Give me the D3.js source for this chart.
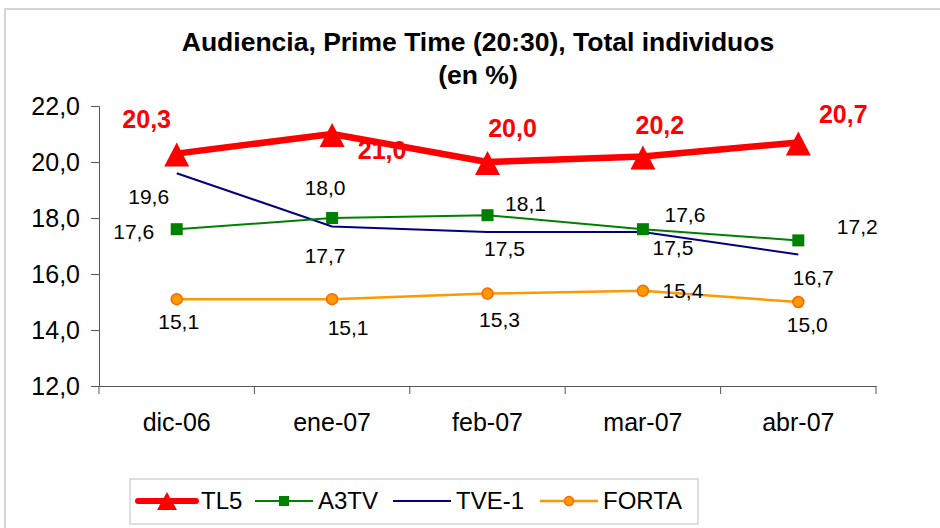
<!DOCTYPE html>
<html>
<head>
<meta charset="utf-8">
<script src="https://d3js.org/d3.v7.min.js"></script>
<style>
  body { margin: 0; background: #fff; }
  text { font-family: "Liberation Sans", Arial, sans-serif; }
</style>
</head>
<body>
<div id="chart"></div>
<script>
// data
var months = ["dic-06", "ene-07", "feb-07", "mar-07", "abr-07"];
var tl5   = [20.3, 21.0, 20.0, 20.2, 20.7];
var a3tv  = [17.6, 18.0, 18.1, 17.6, 17.2];
var tve1  = [19.6, 17.7, 17.5, 17.5, 16.7];
var forta = [15.1, 15.1, 15.3, 15.4, 15.0];
var yTicks = [12, 14, 16, 18, 20, 22];

// label offsets (dx, dy) from each point, as placed in the original
var tl5Off   = [[-30,-34], [50,16], [25,-34], [17,-31], [45,-28]];
var a3tvOff  = [[-43,2], [-7,-30], [38,-12], [42,-15], [59,-14]];
var tve1Off  = [[-28,23], [-7,29], [17,17], [30,16], [15,23]];
var fortaOff = [[2,22], [16,28], [12,26], [40,0], [9,23]];

var W = 940, H = 528;
var svg = d3.select("#chart").append("svg")
  .attr("width", W).attr("height", H);

// outer chart frame
svg.append("rect")
  .attr("x", 5).attr("y", 9)
  .attr("width", 1000).attr("height", 600)
  .attr("fill", "#fff")
  .attr("stroke", "#d4d4d4").attr("stroke-width", 2);

// title
svg.append("text")
  .attr("x", 478).attr("y", 51)
  .attr("text-anchor", "middle")
  .style("font-size", "26.5px").style("font-weight", "bold")
  .text("Audiencia, Prime Time (20:30), Total individuos");
svg.append("text")
  .attr("x", 478).attr("y", 84)
  .attr("text-anchor", "middle")
  .style("font-size", "26.5px").style("font-weight", "bold")
  .text("(en %)");

var x = d3.scaleBand().domain(months).range([99, 876]);
var y = d3.scaleLinear().domain([12, 22]).range([386, 106]);
var cx = function(d, i) { return x(months[i]) + x.bandwidth() / 2; };

var fmt = function(v) { return d3.format(".1f")(v).replace(".", ","); };

// y axis
var yAxis = svg.append("g")
  .attr("transform", "translate(99,0)")
  .call(d3.axisLeft(y).tickValues(yTicks).tickSize(8).tickPadding(11).tickFormat(fmt));
yAxis.selectAll("text").style("font-size", "25px").attr("fill", "#000");
yAxis.selectAll("line, path").attr("stroke", "#555");

// x axis: labels centred, tick marks between categories
var xAxis = svg.append("g")
  .attr("transform", "translate(0,386)")
  .call(d3.axisBottom(x).tickSize(0).tickPadding(27));
xAxis.selectAll("text").style("font-size", "25px").attr("fill", "#000");
xAxis.select("path").attr("stroke", "#555");
var bounds = months.map(function(m) { return x(m); }).concat([x(months[months.length - 1]) + x.step()]);
xAxis.selectAll(".sep").data(bounds).enter().append("line")
  .attr("x1", function(d) { return d; }).attr("x2", function(d) { return d; })
  .attr("y1", 0).attr("y2", 8)
  .attr("stroke", "#555");

var line = d3.line().x(cx).y(function(d) { return y(d); });

function drawLabels(vals, offs, cls, size, weight, color) {
  svg.selectAll("." + cls).data(vals).enter().append("text")
    .attr("class", cls)
    .attr("x", function(d, i) { return cx(d, i) + offs[i][0]; })
    .attr("y", function(d, i) { return y(d) + offs[i][1]; })
    .attr("text-anchor", "middle")
    .attr("dy", "0.35em")
    .style("font-size", size + "px").style("font-weight", weight)
    .attr("fill", color)
    .text(fmt);
}

// FORTA
svg.append("path").attr("d", line(forta))
  .attr("fill", "none").attr("stroke", "#ff9900").attr("stroke-width", 2.5);
svg.selectAll(".fdot").data(forta).enter().append("circle")
  .attr("class", "fdot")
  .attr("cx", cx).attr("cy", function(d) { return y(d); })
  .attr("r", 5.5).attr("fill", "#ff9900").attr("stroke", "#ff6600").attr("stroke-width", 1.5);

// TVE-1
svg.append("path").attr("d", line(tve1))
  .attr("fill", "none").attr("stroke", "#000080").attr("stroke-width", 2);

// A3TV
svg.append("path").attr("d", line(a3tv))
  .attr("fill", "none").attr("stroke", "#008000").attr("stroke-width", 2);
svg.selectAll(".asq").data(a3tv).enter().append("rect")
  .attr("class", "asq")
  .attr("x", function(d, i) { return cx(d, i) - 6; })
  .attr("y", function(d) { return y(d) - 6; })
  .attr("width", 12).attr("height", 12).attr("fill", "#008000");

// TL5
svg.append("path").attr("d", line(tl5))
  .attr("fill", "none").attr("stroke", "#ff0000").attr("stroke-width", 6.5)
  .attr("stroke-linejoin", "round");
svg.selectAll(".tri").data(tl5).enter().append("path")
  .attr("class", "tri")
  .attr("d", function(d, i) {
    var px = cx(d, i), py = y(d);
    return "M" + px + "," + (py - 11) + "L" + (px + 12.5) + "," + (py + 13) + "L" + (px - 12.5) + "," + (py + 13) + "Z";
  })
  .attr("fill", "#ff0000");

drawLabels(forta, fortaOff, "flab", 21, "normal", "#000");
drawLabels(tve1, tve1Off, "vlab", 21, "normal", "#000");
drawLabels(a3tv, a3tvOff, "alab", 21, "normal", "#000");
drawLabels(tl5, tl5Off, "tlab", 25, "bold", "#ff0000");

// legend
var lg = svg.append("g");
lg.append("rect")
  .attr("x", 130).attr("y", 479).attr("width", 568).attr("height", 45)
  .attr("fill", "#fff").attr("stroke", "#d4d4d4").attr("stroke-width", 1.5);
var ly = 501;
var items = [
  { name: "TL5", x0: 138, color: "#ff0000", w: 6, mark: "tri" },
  { name: "A3TV", x0: 255, color: "#008000", w: 2, mark: "sq" },
  { name: "TVE-1", x0: 393, color: "#000080", w: 2, mark: "none" },
  { name: "FORTA", x0: 540, color: "#ff9900", w: 2.5, mark: "dot" }
];
items.forEach(function(it) {
  var mid = it.x0 + 29;
  lg.append("line")
    .attr("x1", it.x0).attr("x2", it.x0 + 58).attr("y1", ly).attr("y2", ly)
    .attr("stroke", it.color).attr("stroke-width", it.w).attr("stroke-linecap", it.mark === "tri" ? "round" : "butt");
  if (it.mark === "tri") {
    lg.append("path")
      .attr("d", "M" + mid + "," + (ly - 9) + "L" + (mid + 10) + "," + (ly + 9) + "L" + (mid - 10) + "," + (ly + 9) + "Z")
      .attr("fill", it.color);
  } else if (it.mark === "sq") {
    lg.append("rect").attr("x", mid - 5).attr("y", ly - 5).attr("width", 10).attr("height", 10).attr("fill", it.color);
  } else if (it.mark === "dot") {
    lg.append("circle").attr("cx", mid).attr("cy", ly).attr("r", 4.5)
      .attr("fill", "#ff9900").attr("stroke", "#ff6600").attr("stroke-width", 1.5);
  }
  lg.append("text")
    .attr("x", it.x0 + 63).attr("y", ly).attr("dy", "0.35em")
    .style("font-size", "24px")
    .text(it.name);
});
</script>
</body>
</html>
